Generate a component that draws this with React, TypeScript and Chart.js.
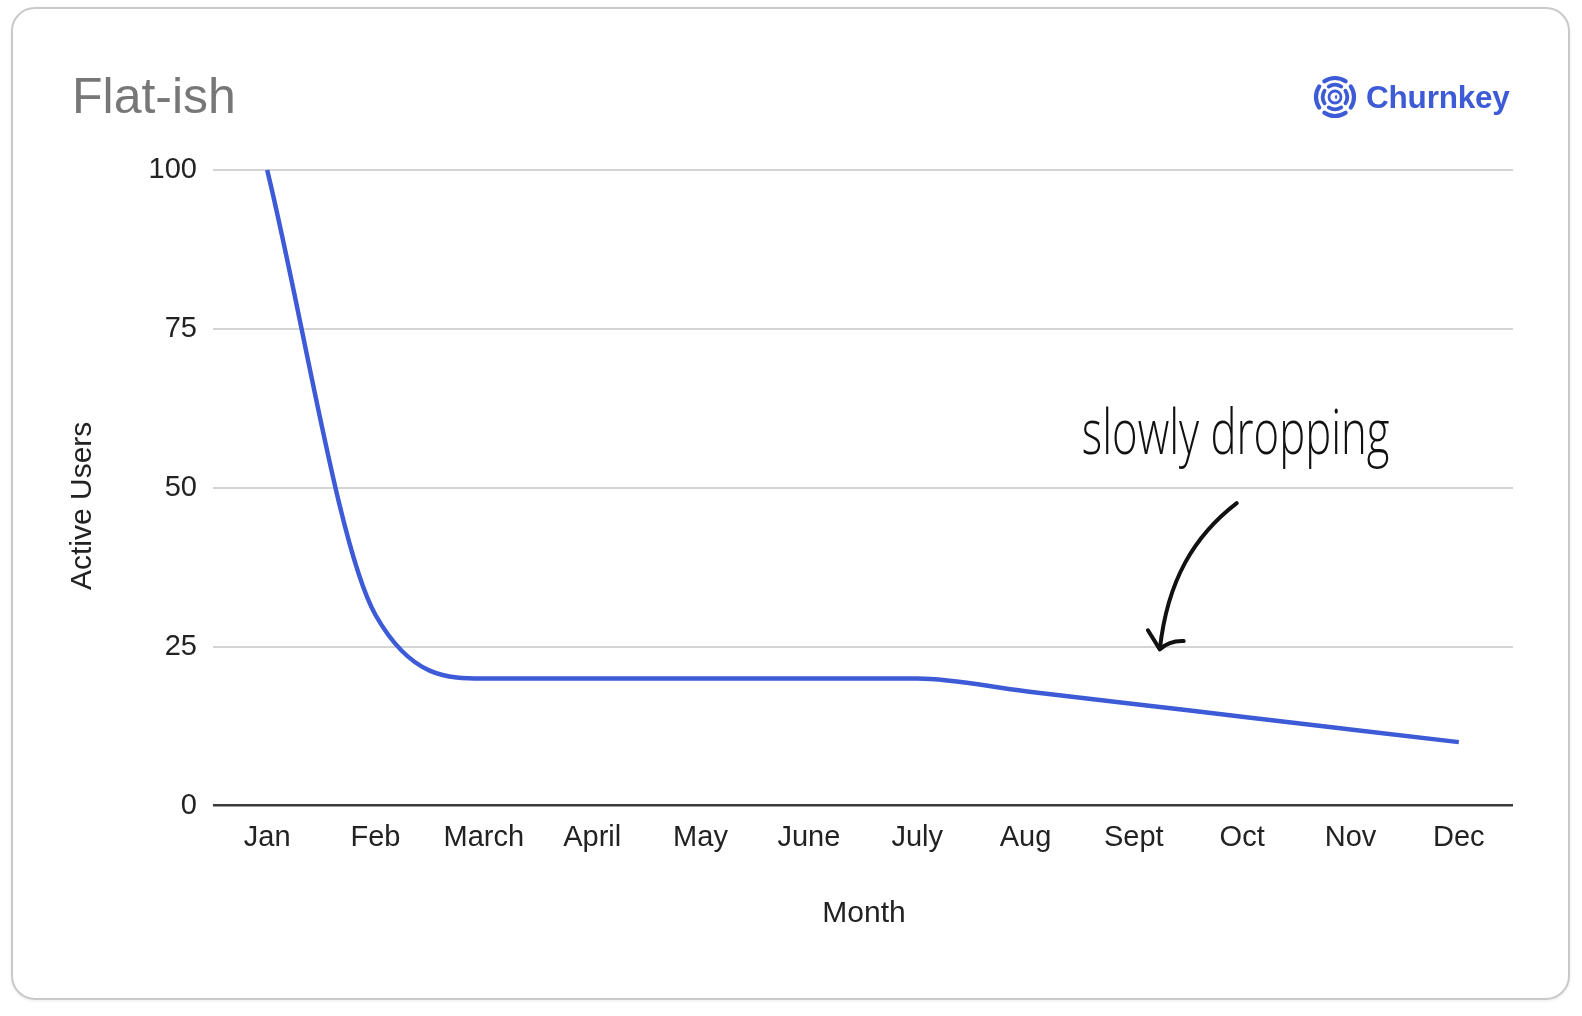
import React, { useEffect, useRef } from "react";
import { Chart, registerables } from "chart.js";

Chart.register(...registerables);

const months = ["Jan", "Feb", "March", "April", "May", "June", "July", "Aug", "Sept", "Oct", "Nov", "Dec"];
const activeUsers = [100, 30, 20, 20, 20, 20, 20, 18, 16, 14, 12, 10];
const yTicks = [0, 25, 50, 75, 100];

const titleText = "Flat-ish";
const xTitle = "Month";
const yTitle = "Active Users";
const noteText = "slowly dropping";
const brandText = "Churnkey";

const W = 1582;
const H = 1016;
const BLUE = "#3d5bd6";
const FONT = "'Liberation Sans', Arial, Helvetica, sans-serif";

function arcPath(r: number, a1: number, a2: number) {
  const toR = (d: number) => (d * Math.PI) / 180;
  const x1 = r * Math.cos(toR(a1));
  const y1 = r * Math.sin(toR(a1));
  const x2 = r * Math.cos(toR(a2));
  const y2 = r * Math.sin(toR(a2));
  return `M ${x1} ${y1} A ${r} ${r} 0 0 1 ${x2} ${y2}`;
}

function Logo() {
  const centers = [0, 90, 180, 270];
  return (
    <svg width={46} height={46} viewBox="-23 -23 46 46" style={{ display: "block" }}>
      {centers.map((c) => (
        <path key={"o" + c} d={arcPath(19, c - 34, c + 34)} stroke={BLUE} strokeWidth={4.2} fill="none" strokeLinecap="round" />
      ))}
      {centers.map((c) => (
        <path key={"m" + c} d={arcPath(12.2, c - 31, c + 31)} stroke={BLUE} strokeWidth={3.8} fill="none" strokeLinecap="round" />
      ))}
      <circle cx={0} cy={0} r={6} stroke={BLUE} strokeWidth={2.8} fill="none" />
      <path d={arcPath(2.4, 45, 315)} stroke={BLUE} strokeWidth={1.8} fill="none" />
    </svg>
  );
}

const annotationPlugin = {
  id: "annotations",
  afterDraw(chart: any) {
    const ctx = chart.ctx;
    const xs = chart.scales.x;
    const ys = chart.scales.y;
    const area = chart.chartArea;
    ctx.save();
    // axis titles
    ctx.fillStyle = "#222";
    ctx.font = `30px ${FONT}`;
    ctx.textAlign = "center";
    ctx.textBaseline = "middle";
    ctx.fillText(xTitle, (area.left + area.right) / 2 + 1, 914);
    ctx.save();
    ctx.translate(83, (area.top + area.bottom) / 2 + 18);
    ctx.rotate(-Math.PI / 2);
    ctx.fillText(yTitle, 0, 0);
    ctx.restore();

    // handwritten note
    const px = (i: number) => xs.getPixelForValue(i);
    const py = (v: number) => ys.getPixelForValue(v);
    ctx.fillStyle = "#111";
    ctx.font = `300 62px 'Open Sans', 'DejaVu Sans', sans-serif`;
    ctx.textAlign = "left";
    ctx.textBaseline = "alphabetic";
    const tx = px(7.52);
    ctx.fillText(noteText, tx, py(55.3), px(10.36) - tx);

    // arrow
    ctx.strokeStyle = "#111";
    ctx.lineWidth = 4;
    ctx.lineCap = "round";
    ctx.lineJoin = "round";
    ctx.beginPath();
    ctx.moveTo(px(8.95), py(47.6));
    ctx.bezierCurveTo(px(8.56), py(42.5), px(8.31), py(35.5), px(8.24), py(24.6));
    ctx.stroke();
    ctx.beginPath();
    ctx.moveTo(px(8.13), py(27.6));
    ctx.lineTo(px(8.24), py(24.6));
    ctx.quadraticCurveTo(px(8.33), py(26.0), px(8.46), py(25.9));
    ctx.stroke();
    ctx.restore();
  },
};

export default function App() {
  const ref = useRef<HTMLCanvasElement | null>(null);

  useEffect(() => {
    if (!ref.current) return;
    const chart = new Chart(ref.current, {
      type: "line",
      data: {
        labels: months,
        datasets: [
          {
            data: activeUsers,
            borderColor: BLUE,
            borderWidth: 4.5,
            pointRadius: 0,
            cubicInterpolationMode: "monotone",
            tension: 0.4,
            fill: false,
            clip: false as any,
          },
        ],
      },
      options: {
        responsive: false,
        maintainAspectRatio: false,
        animation: false,
        devicePixelRatio: 1,
        layout: { padding: { left: 0, right: 69, top: 170, bottom: 100 } },
        plugins: { legend: { display: false }, tooltip: { enabled: false }, title: { display: false } },
        scales: {
          x: {
            type: "category",
            offset: true,
            grid: { display: false, drawTicks: false },
            border: { display: false },
            ticks: { color: "#222", font: { size: 29, family: FONT }, padding: 15, maxRotation: 0, autoSkip: false },
            afterFit: (s: any) => {
              s.height = H - 100 - 805.7;
            },
          },
          y: {
            min: 0,
            max: 100,
            afterBuildTicks: (s: any) => {
              s.ticks = yTicks.map((v) => ({ value: v }));
            },
            grid: {
              drawTicks: false,
              color: (c: any) => (c.tick && c.tick.value === 0 ? "#3a3a3a" : "#d4d4d4"),
              lineWidth: (c: any) => (c.tick && c.tick.value === 0 ? 2.5 : 2),
            },
            border: { display: false },
            ticks: { color: "#222", font: { size: 29, family: FONT }, padding: 16 },
            afterFit: (s: any) => {
              s.width = 213;
            },
          },
        },
      },
      plugins: [annotationPlugin],
    });
    return () => chart.destroy();
  }, []);

  return (
    <div style={{ position: "absolute", left: 0, top: 0, width: W, height: H, background: "#fff", overflow: "hidden" }}>
      <div
        style={{
          position: "absolute",
          left: 11,
          top: 7,
          width: 1559,
          height: 993,
          boxSizing: "border-box",
          border: "2px solid #c9c9c9",
          borderRadius: 24,
          boxShadow: "0 1px 3px rgba(0,0,0,0.08)",
        }}
      />
      <canvas ref={ref} width={W} height={H} style={{ position: "absolute", left: 0, top: 0, width: W, height: H }} />
      <div
        style={{
          position: "absolute",
          left: 72,
          top: 68,
          fontFamily: FONT,
          fontSize: 50,
          lineHeight: "56px",
          color: "#777",
        }}
      >
        {titleText}
      </div>
      <div style={{ position: "absolute", left: 1312, top: 74, display: "flex", alignItems: "center", gap: 8 }}>
        <Logo />
        <span style={{ fontFamily: FONT, fontWeight: 700, fontSize: 31.5, color: BLUE, lineHeight: "46px", letterSpacing: -0.2 }}>
          {brandText}
        </span>
      </div>
    </div>
  );
}
